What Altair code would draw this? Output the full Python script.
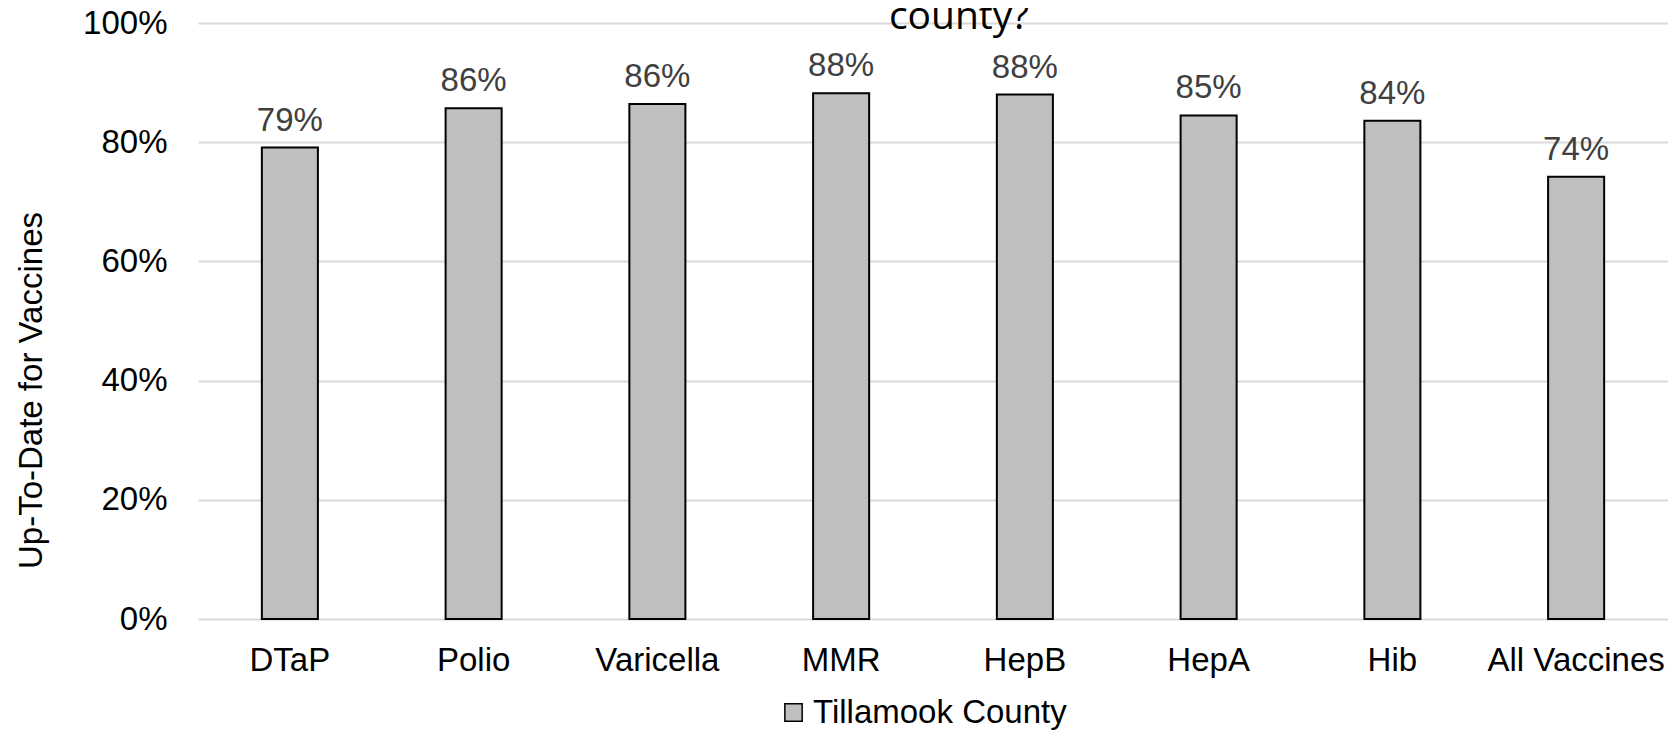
import altair as alt
import pandas as pd

categories = ["DTaP", "Polio", "Varicella", "MMR", "HepB", "HepA", "Hib", "All Vaccines"]
values = [79.1, 85.7, 86.4, 88.2, 88.0, 84.5, 83.6, 74.2]
series_name = "Tillamook County"
y_ticks = [0, 20, 40, 60, 80, 100]
title_text = ["county?"]
y_title = "Up-To-Date for Vaccines"

df = pd.DataFrame({
    "category": categories,
    "value": values,
    "series": [series_name] * len(categories),
})

FONT = "Liberation Sans"

x_enc = alt.X(
    "category:N",
    sort=categories,
    scale=alt.Scale(paddingInner=0.695, paddingOuter=0.3475),
    axis=alt.Axis(
        title=None, labelAngle=0, ticks=False, tickSize=0, domain=False, grid=False,
        labelFont=FONT, labelFontSize=33, labelColor="black", labelPadding=25,
        labelLimit=400,
    ),
)
y_enc = alt.Y(
    "value:Q",
    scale=alt.Scale(domain=[0, 100], nice=False),
    axis=alt.Axis(
        values=y_ticks, labelExpr="datum.value + '%'", title=y_title,
        ticks=False, tickSize=0, domain=False, grid=True,
        gridColor="#d9d9d9", gridWidth=2,
        labelFont=FONT, labelFontSize=33, labelColor="black", labelPadding=31,
        titleFont=FONT, titleFontSize=33, titleColor="black", titleFontWeight="normal",
        titleAngle=-90, titleX=-167, titleY=367, titleAlign="center", titleBaseline="middle",
    ),
)

bars = alt.Chart(df).mark_bar(stroke="black", strokeWidth=2).encode(
    x=x_enc,
    y=y_enc,
    color=alt.Color(
        "series:N",
        scale=alt.Scale(range=["#bfbfbf"]),
        legend=alt.Legend(
            title=None, orient="none", legendX=579, legendY=673, padding=0,
            symbolType="square", symbolSize=300, symbolStrokeColor="black",
            symbolStrokeWidth=1.5, labelFont=FONT, labelFontSize=33,
            labelColor="black", labelOffset=3, labelLimit=600,
        ),
    ),
)

labels = alt.Chart(df).transform_calculate(
    frac="datum.value / 100"
).mark_text(
    font=FONT, fontSize=33, color="#404040", baseline="alphabetic", dy=-17
).encode(
    x=alt.X("category:N", sort=categories),
    y=alt.Y("value:Q"),
    text=alt.Text("frac:Q", format=".0%"),
)

title = alt.Chart(pd.DataFrame({"t": title_text})).mark_text(
    font="Open Sans", fontSize=39, color="black", baseline="alphabetic", align="center"
).encode(
    x=alt.value(761),
    y=alt.value(6),
    text="t:N",
)

chart = alt.layer(bars, labels, title).properties(
    width=1470,
    height=596,
    autosize=alt.AutoSizeParams(type="none"),
    padding={"left": 190, "top": 15, "right": 0, "bottom": 111},
).configure_view(stroke=None)

chart.save("out.html", embed_options={"renderer": "svg", "actions": False})
